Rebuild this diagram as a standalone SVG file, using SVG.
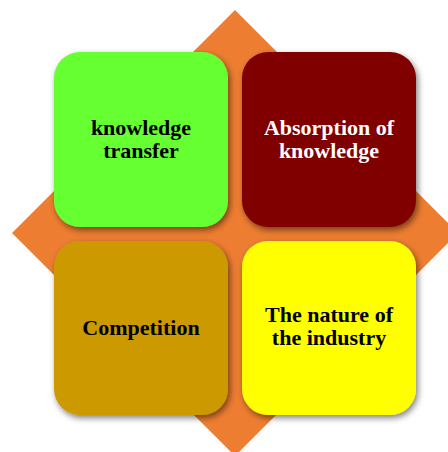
<svg xmlns="http://www.w3.org/2000/svg" width="448" height="452" viewBox="0 0 448 452">
<defs>
<style>
.box{stroke:none;filter:url(#sh)}
.t{font-family:"Liberation Serif","Times New Roman",serif;font-weight:bold;font-size:22px;text-anchor:middle}
</style>
<filter id="sh" x="-20%" y="-20%" width="140%" height="140%">
<feDropShadow dx="2" dy="3" stdDeviation="3" flood-color="#000" flood-opacity="0.5"/>
</filter>
</defs>
<rect width="448" height="452" fill="#fff"/>
<g id="diamond">
<polygon points="235,10 458,233 235,456 12,233" fill="#ED7D31"/>
</g>
<g id="node-knowledge-transfer">
<rect class="box" x="54" y="52" width="174" height="175" rx="26" fill="#66FF33"/>
<text class="t" x="141" y="135" fill="#000">knowledge</text>
<text class="t" x="141" y="158" fill="#000">transfer</text>
</g>
<g id="node-absorption">
<rect class="box" x="242" y="52" width="174" height="175" rx="26" fill="#800000"/>
<text class="t" x="329" y="135" fill="#fff">Absorption of</text>
<text class="t" x="329" y="158" fill="#fff">knowledge</text>
</g>
<g id="node-competition">
<rect class="box" x="54" y="241" width="174" height="174" rx="26" fill="#CC9900"/>
<text class="t" x="141" y="335" fill="#000">Competition</text>
</g>
<g id="node-nature">
<rect class="box" x="242" y="241" width="174" height="174" rx="26" fill="#FFFF00"/>
<text class="t" x="329" y="322" fill="#000">The nature of</text>
<text class="t" x="329" y="345" fill="#000">the industry</text>
</g>
<g id="connectors"></g>
</svg>
